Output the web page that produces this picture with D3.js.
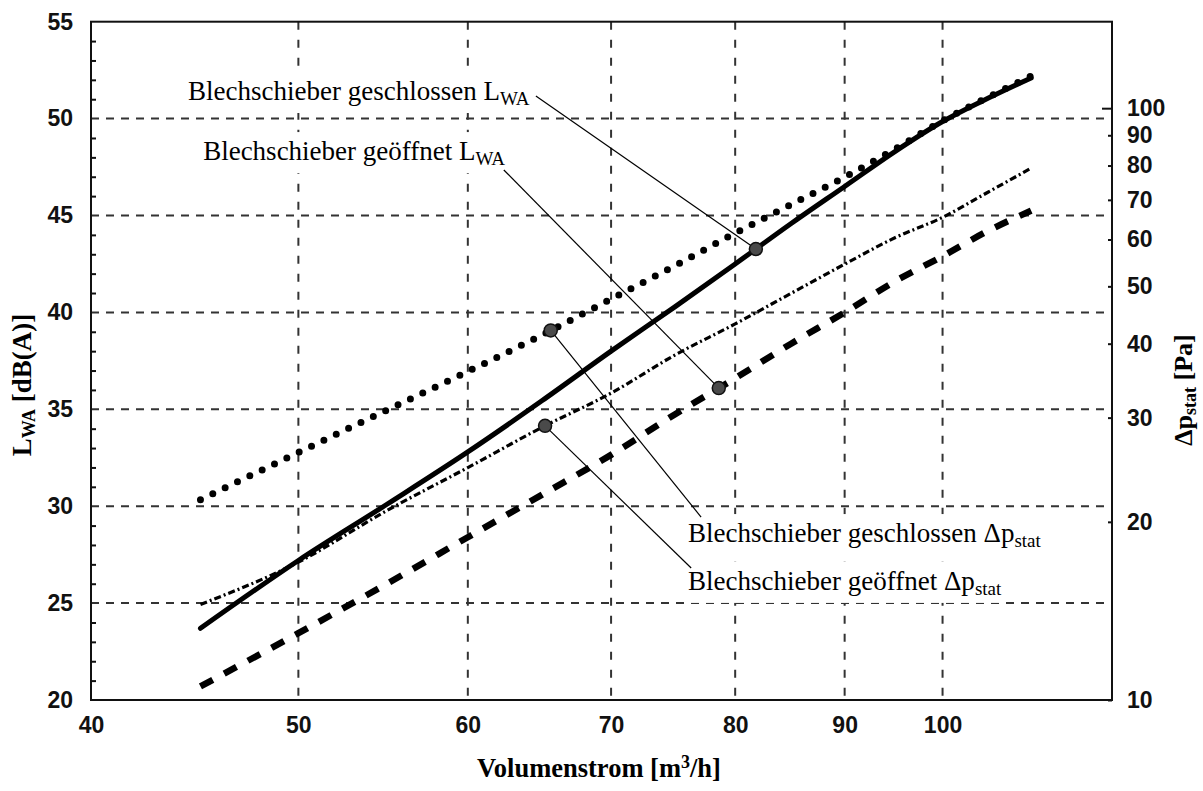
<!DOCTYPE html>
<html><head><meta charset="utf-8">
<script src="https://cdn.jsdelivr.net/npm/d3@7"></script>
<style>body{margin:0;background:#fff} svg{display:block}</style>
</head><body><svg id="c" width="1203" height="791"></svg>
<script>
// ---- data ----
const flow = [45, 50, 55, 60, 65, 70, 75, 80, 85, 90, 95, 100, 105, 110];           // m³/h
const lwaClosed = [23.7, 27.2, 30.1, 32.8, 35.45, 38.0, 40.3, 42.5, 44.6, 46.5, 48.3, 49.85, 51.05, 52.1]; // dB(A)
const lwaOpen   = [20.7, 23.45, 26.0, 28.4, 30.6, 32.65, 34.75, 36.6, 38.4, 40.0, 41.6, 42.9, 44.2, 45.25];
const dpClosed  = [21.8, 26.2, 30.9, 35.9, 41.4, 47.6, 54.2, 61.5, 68.8, 76.5, 85.3, 95.2, 104.3, 113.3]; // Pa
const dpOpen    = [14.5, 17.1, 20.9, 24.7, 28.9, 33.0, 38.3, 43.2, 48.7, 54.5, 60.4, 65.4, 72.1, 79.2];

const xTicks = [40, 50, 60, 70, 80, 90, 100];
const yLeftTicks = [20, 25, 30, 35, 40, 45, 50, 55];
const yRightTicks = [10, 20, 30, 40, 50, 60, 70, 80, 90, 100];
const xGrid = [50, 60, 70, 80, 90, 100];
const yGrid = [25, 30, 35, 40, 45, 50];

// annotations: label anchor (flow, LWA-units), leader end at label, marker flow on its series
const annotations = [
  {main: "Blechschieber geschlossen L", sub: "WA", series: "lwaClosed", at: 81.8, lx: 44.4, ly: 50.96, ex: 64.56, ey: 51.17},
  {main: "Blechschieber geöffnet L", sub: "WA", series: "lwaOpen", at: 78.6, lx: 45.13, ly: 47.86, ex: 62.37, ey: 47.35},
  {main: "Blechschieber geschlossen Δp", sub: "stat", series: "dpClosed", at: 65.6, lx: 76.05, ly: 28.15, ex: 77.12, ey: 29.44},
  {main: "Blechschieber geöffnet Δp", sub: "stat", series: "dpOpen", at: 65.2, lx: 76.05, ly: 25.68, ex: 76.3, ey: 26.81}
];

// ---- layout ----
const m = {l: 91, r: 1112, t: 21.7, b: 700};
const svg = d3.select("#c");
const x = d3.scaleLog().domain([40, 120]).range([m.l, m.r]);
const yL = d3.scaleLinear().domain([20, 55]).range([m.b, m.t]);
const yR = d3.scaleLog().domain([10, 140]).range([m.b, m.t]);

const sans = "'Liberation Sans', Arial, sans-serif";
const serif = "'Liberation Serif', 'Times New Roman', serif";

// grid
const g = svg.append("g");
g.selectAll(".vg").data(xGrid).join("line")
  .attr("x1", d => x(d)).attr("x2", d => x(d)).attr("y1", m.t).attr("y2", m.b)
  .attr("stroke", "#333").attr("stroke-width", 2).attr("stroke-dasharray", "8,10");
g.selectAll(".hg").data(yGrid).join("line")
  .attr("x1", m.l).attr("x2", m.r).attr("y1", d => yL(d)).attr("y2", d => yL(d))
  .attr("stroke", "#333").attr("stroke-width", 2).attr("stroke-dasharray", "8,7");

// series
const series = {
  lwaClosed: {vals: lwaClosed, y: yL, style: {w: 5, dash: null, cap: "round"}},
  lwaOpen:   {vals: lwaOpen,   y: yL, style: {w: 6.5, dash: "14,13", cap: "butt"}},
  dpClosed:  {vals: dpClosed,  y: yR, style: {w: 7, dash: "0,13.7", cap: "round"}},
  dpOpen:    {vals: dpOpen,    y: yR, style: {w: 3.2, dash: "7,3,2,3", cap: "butt"}}
};
const lines = svg.append("g");
Object.values(series).forEach(s => {
  const line = d3.line().curve(d3.curveMonotoneX).x((d, i) => x(flow[i])).y(d => s.y(d));
  lines.append("path").datum(s.vals)
    .attr("d", line).attr("fill", "none").attr("stroke", "#000")
    .attr("stroke-width", s.style.w)
    .attr("stroke-dasharray", s.style.dash)
    .attr("stroke-linecap", s.style.cap).attr("stroke-linejoin", "round");
});

// interpolation on the series in screen space
function pointOn(key, f) {
  const s = series[key];
  const pts = flow.map((fl, i) => [x(fl), s.y(s.vals[i])]);
  const px = x(f);
  for (let i = 0; i < pts.length - 1; i++) {
    if (px >= pts[i][0] && px <= pts[i + 1][0]) {
      const t = (px - pts[i][0]) / (pts[i + 1][0] - pts[i][0]);
      return [px, pts[i][1] + t * (pts[i + 1][1] - pts[i][1])];
    }
  }
  return pts[pts.length - 1];
}

// frame
svg.append("rect").attr("x", m.l).attr("y", m.t).attr("width", m.r - m.l).attr("height", m.b - m.t)
  .attr("fill", "none").attr("stroke", "#111").attr("stroke-width", 2);

// axes
const axL = d3.axisLeft(yL).tickValues(yLeftTicks).tickSize(0).tickPadding(18).tickFormat(d3.format("d"));
const aL = svg.append("g").attr("transform", `translate(${m.l},0)`).call(axL);
const minorL = d3.axisLeft(yL).tickValues(d3.range(21, 55).filter(v => v % 5 !== 0)).tickSize(-5).tickFormat("");
const mL = svg.append("g").attr("transform", `translate(${m.l},0)`).call(minorL);
const axB = d3.axisBottom(x).tickValues(xTicks).tickSize(0).tickPadding(17).tickFormat(d3.format("d"));
const aB = svg.append("g").attr("transform", `translate(0,${m.b})`).call(axB);
const axR = d3.axisRight(yR).tickValues(yRightTicks).tickSize(-4).tickPadding(15).tickFormat(d3.format("d"));
const aR = svg.append("g").attr("transform", `translate(${m.r},0)`).call(axR);
[aL, mL, aB, aR].forEach(a => {
  a.select(".domain").remove();
  a.selectAll("line").attr("stroke", "#111").attr("stroke-width", 2);
  a.selectAll("text").attr("font-family", sans).attr("font-weight", "bold").attr("font-size", 23).attr("fill", "#111");
});
aR.selectAll(".tick").filter(d => d === 100).select("line").attr("x2", -10);

// annotations
const ann = svg.append("g");
annotations.forEach(a => {
  const p = pointOn(a.series, a.at);
  const t = ann.append("text").attr("x", x(a.lx)).attr("y", yL(a.ly))
    .attr("font-family", serif).attr("font-size", 27).attr("fill", "#000");
  t.append("tspan").text(a.main);
  t.append("tspan").text(a.sub).attr("font-size", 19).attr("dy", 5);
  const bb = t.node().getBBox();
  ann.insert("rect", () => t.node())
    .attr("x", bb.x - 3).attr("y", bb.y - 4).attr("width", bb.width + 6).attr("height", bb.height + 8)
    .attr("fill", "#fff");
  ann.append("line").attr("x1", x(a.ex)).attr("y1", yL(a.ey)).attr("x2", p[0]).attr("y2", p[1])
    .attr("stroke", "#000").attr("stroke-width", 1.2);
  ann.append("circle").attr("cx", p[0]).attr("cy", p[1]).attr("r", 6.5)
    .attr("fill", "#4a4a4a").attr("stroke", "#111").attr("stroke-width", 1.5);
});

// axis titles
const tl = svg.append("text").attr("transform", `translate(31,385) rotate(-90)`).attr("text-anchor", "middle")
  .attr("font-family", serif).attr("font-weight", "bold").attr("font-size", 27).attr("fill", "#000");
tl.append("tspan").text("L");
tl.append("tspan").text("WA").attr("font-size", 18).attr("dy", 4);
tl.append("tspan").text(" [dB(A)]").attr("dy", -4);

const tr = svg.append("text").attr("transform", `translate(1192,390) rotate(-90)`).attr("text-anchor", "middle")
  .attr("font-family", serif).attr("font-weight", "bold").attr("font-size", 26).attr("fill", "#000");
tr.append("tspan").text("Δp");
tr.append("tspan").text("stat").attr("font-size", 18).attr("dy", 4);
tr.append("tspan").text(" [Pa]").attr("dy", -4);

const tb = svg.append("text").attr("x", 599).attr("y", 777).attr("text-anchor", "middle")
  .attr("font-family", serif).attr("font-weight", "bold").attr("font-size", 26.5).attr("fill", "#000");
tb.append("tspan").text("Volumenstrom [m");
tb.append("tspan").text("3").attr("font-size", 18).attr("dy", -9);
tb.append("tspan").text("/h]").attr("dy", 9);
</script></body></html>
